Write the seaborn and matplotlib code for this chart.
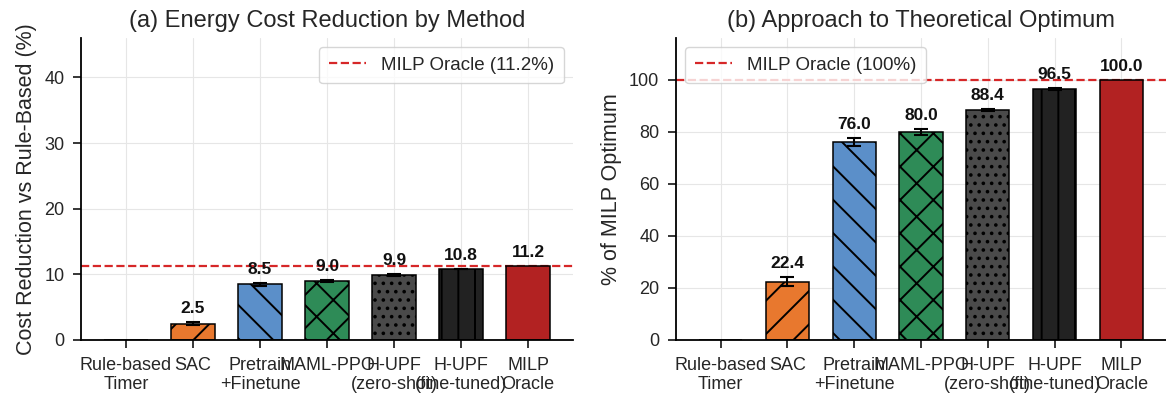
import matplotlib
matplotlib.use("Agg")
import matplotlib.pyplot as plt
import seaborn as sns
import pandas as pd
import numpy as np

methods = ["Rule-based\nTimer", "SAC", "Pretrain\n+Finetune", "MAML-PPO",
           "H-UPF\n(zero-shot)", "H-UPF\n(fine-tuned)", "MILP\nOracle"]
cost_reduction = [0.0, 2.5, 8.5, 9.0, 9.9, 10.8, 11.2]
cost_err = [0.0, 0.2, 0.2, 0.1, 0.1, 0.05, 0.0]
pct_optimum = [0.0, 22.4, 76.0, 80.0, 88.4, 96.5, 100.0]
pct_err = [0.0, 1.8, 1.5, 1.2, 0.5, 0.3, 0.0]
colors = ["#9E9E9E", "#E8782E", "#5B8FC9", "#2E8B57", "#4A4A4A", "#222222", "#B22222"]
hatches = ["", "/", "\\", "x", "..", "|", ""]
oracle_cost = 11.2
oracle_pct = 100.0

sns.set_theme(style="ticks")
plt.rcParams["font.family"] = ["Liberation Sans", "DejaVu Sans"]
plt.rcParams["hatch.linewidth"] = 1.4

fig = plt.figure(figsize=(11.66, 3.98), dpi=100)
ax1 = fig.add_axes([81/1166, 58/398, 492/1166, 302/398])
ax2 = fig.add_axes([676/1166, 58/398, 490/1166, 302/398])


def draw(ax, vals, errs, ytop, oracle, leg_label, leg_loc, title, ylabel, yticks):
    df = pd.DataFrame({"Method": methods, "Value": vals})
    sns.barplot(data=df, x="Method", y="Value", hue="Method", palette=colors,
                order=methods, hue_order=methods, width=0.65, legend=False,
                edgecolor="black", linewidth=1.1, saturation=1, ax=ax, zorder=2)
    for p, h in zip(ax.patches, hatches):
        p.set_hatch(h)
        p.set_edgecolor("black")
    xs = np.arange(len(methods))
    m = np.array(errs) > 0
    ax.errorbar(xs[m], np.array(vals)[m], yerr=np.array(errs)[m], fmt="none",
                ecolor="black", elinewidth=1.5, capsize=5, capthick=1.5, zorder=3)
    ax.axhline(oracle, color="#D62728", linestyle="--", linewidth=1.6,
               label=leg_label, zorder=1.5)
    for x, v, e in zip(xs, vals, errs):
        if v > 0:
            ax.text(x, v + e + 0.02 * ytop, f"{v:.1f}", ha="center", va="bottom",
                    fontsize=12.5, fontweight="bold", color="#111111")
    ax.set_xlim(-0.67, len(methods) - 1 + 0.67)
    ax.set_ylim(0, ytop)
    ax.set_yticks(yticks)
    ax.set_xlabel("")
    ax.set_ylabel(ylabel, fontsize=15.5, labelpad=5)
    ax.set_title(title, fontsize=17, pad=8)
    ax.tick_params(axis="both", labelsize=13, length=6, width=1.1, pad=6,
                   color="black")
    for lab in ax.get_xticklabels() + ax.get_yticklabels():
        lab.set_fontsize(13)
    ax.grid(True, color="#E6E6E6", linewidth=0.8, zorder=0)
    ax.set_axisbelow(True)
    for s in ["top", "right"]:
        ax.spines[s].set_visible(False)
    for s in ["left", "bottom"]:
        ax.spines[s].set_color("black")
        ax.spines[s].set_linewidth(1.3)
    ax.legend(loc=leg_loc, fontsize=13.5, frameon=True, framealpha=0.8,
              edgecolor="#CCCCCC", borderpad=0.5)


draw(ax1, cost_reduction, cost_err, 46, oracle_cost, "MILP Oracle (11.2%)",
     "upper right", "(a) Energy Cost Reduction by Method",
     "Cost Reduction vs Rule-Based (%)", [0, 10, 20, 30, 40])
draw(ax2, pct_optimum, pct_err, 116, oracle_pct, "MILP Oracle (100%)",
     "upper left", "(b) Approach to Theoretical Optimum",
     "% of MILP Optimum", [0, 20, 40, 60, 80, 100])

fig.savefig("out.png", dpi=100)
